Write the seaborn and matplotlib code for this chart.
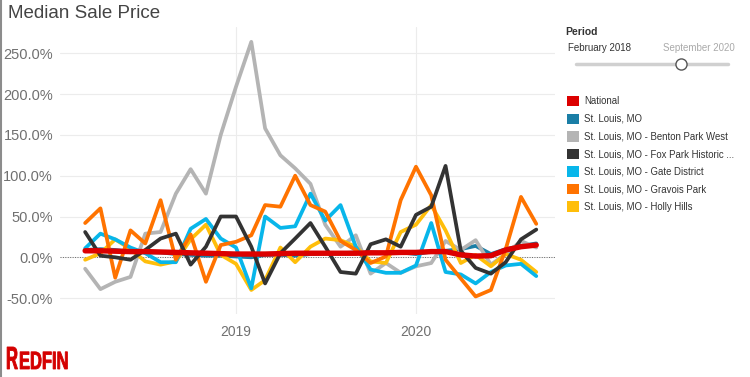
import pandas as pd
import seaborn as sns
import matplotlib.pyplot as plt
from matplotlib.patches import Patch, PathPatch
from matplotlib.lines import Line2D
from matplotlib.textpath import TextPath
from matplotlib.font_manager import FontProperties
from matplotlib.transforms import Affine2D, IdentityTransform

# %% Data (year-over-year change in median sale price, %)

months = pd.date_range('2018-03-01', '2020-09-01', freq='MS')

national = [8, 8, 7.5, 7, 7, 6.5, 6, 5.5, 5, 4.5, 4, 4, 4, 4.5, 5, 5,
            5, 5, 5, 5.5, 5.5, 6, 6, 7, 7, 3, 1.5, 2, 9, 13, 15]
st_louis = [9, 10, 9, 7, 6, 6, 4, 3, 2, 2, 1, 0, 3, 3, 2, 4,
            5, 5, 6, 6, 5, 6, 4, 7, 8, 10, 14, 4, 10, 14, 17]
benton_park_west = [-14, -39, -30, -24, 29, 31, 78, 108, 78, 150, 209, 264, 158, 125, 109, 90,
                    40, 13, 27, -20, -7, -19, -11, -7, 20, 9, 21, -9, 4, 20, 12]
fox_park = [31, 2, 0, -3, 9, 23, 29, -9, 13, 50, 50, 13, -32, 5, 23, 42,
            13, -18, -20, 16, 22, 13, 52, 62, 112, 8, -13, -20, -6, 22, 34]
gate_district = [11, 29, 22, 12, 5, -6, -6, 35, 47, 23, 12, -38, 50, 36, 38, 78,
                 45, 64, 13, -15, -19, -19, -10, 42, -18, -21, -32, -18, -10, -8, -23]
gravois_park = [42, 60, -25, 33, 17, 70, -3, 28, -30, 15, 19, 27, 64, 62, 100, 64,
                56, 20, 9, -7, 1, 70, 111, 76, -3, -26, -48, -40, 10, 74, 41]
holly_hills = [-3, 5, 22, 10, -5, -9, -5, 22, 40, 3, -8, -40, -28, 12, -6, 13,
               23, 21, 13, -5, -7, 31, 40, 64, 33, -7, 3, -11, 4, -3, -18]

regions = ['National', 'St. Louis, MO', 'St. Louis, MO - Benton Park West',
           'St. Louis, MO - Fox Park Historic ...', 'St. Louis, MO - Gate District',
           'St. Louis, MO - Gravois Park', 'St. Louis, MO - Holly Hills']
series = [national, st_louis, benton_park_west, fox_park, gate_district,
          gravois_park, holly_hills]
colors = ['#dc0000', '#1a7ea6', '#b4b4b4', '#333333', '#08b6ea', '#ff7300', '#ffbe0a']

data = pd.concat(
    [pd.DataFrame({'Month': months, 'Change': vals, 'Region': name})
     for name, vals in zip(regions, series)],
    ignore_index=True,
)

# %% Plot

sns.set_style('white')
plt.rcParams['font.family'] = ['Liberation Sans', 'DejaVu Sans']

fig = plt.figure(figsize=(7.5, 3.77), dpi=100)
ax = fig.add_axes([0.08, 0.167, 0.66, 0.761])

draw_order = [regions[i] for i in (1, 2, 6, 4, 5, 3, 0)]
palette = dict(zip(regions, colors))
widths = {r: 2.7 for r in regions}
widths['National'] = 3.9

sns.lineplot(
    data=data, x='Month', y='Change',
    hue='Region', hue_order=draw_order, palette=palette,
    size='Region', size_order=draw_order, sizes=widths,
    legend=False, ax=ax, zorder=3,
)

ax.axhline(0, color='#666666', lw=0.7, ls=(0, (1, 1.5)), zorder=2)

ax.set_ylim(-69.5, 282)
ax.set_xlim(pd.Timestamp('2018-01-09'), pd.Timestamp('2020-10-09'))
yticks = [-50, 0, 50, 100, 150, 200, 250]
ax.set_yticks(yticks)
ax.set_yticklabels([f'{v:.1f}%' for v in yticks])
ax.set_xticks([pd.Timestamp('2019-01-01'), pd.Timestamp('2020-01-01')])
ax.set_xticklabels(['2019', '2020'])
ax.set_xticks(pd.date_range('2018-02-01', '2020-10-01', freq='MS'), minor=True)

ax.tick_params(axis='y', length=4, width=0.8, color='#dddddd', pad=1,
               labelsize=10.5, labelcolor='#707070')
ax.tick_params(axis='x', which='major', length=4, width=0.8, color='#dddddd',
               pad=4, labelsize=10, labelcolor='#707070')
ax.tick_params(axis='x', which='minor', length=2, width=0.8, color='#d5d5d5')
ax.grid(True, which='major', color='#ececec', lw=0.8)
ax.set_xlabel('')
ax.set_ylabel('')
sns.despine(ax=ax, left=True, bottom=True)

fig.text(8 / 750, 1 - 13 / 377, 'Median Sale Price', fontsize=13.5,
         color='#444444', va='center')

# period filter
fig.text(565 / 750, 1 - 32 / 377, 'Period', fontsize=7.5, fontweight='bold',
         color='#333333', va='center')
fig.text(568 / 750, 1 - 48 / 377, 'February 2018', fontsize=7,
         color='#333333', va='center')
fig.text(735 / 750, 1 - 48 / 377, 'September 2020', fontsize=7,
         color='#aaaaaa', va='center', ha='right')
fig.add_artist(Line2D([576 / 750, 728 / 750], [1 - 64 / 377] * 2,
                      color='#d0d0d0', lw=2.5, solid_capstyle='round'))
fig.add_artist(Line2D([681 / 750], [1 - 64 / 377], marker='o', markersize=8,
                      markerfacecolor='white', markeredgecolor='#555555',
                      markeredgewidth=1))

handles = [Patch(facecolor=c, edgecolor='none') for c in colors]
ax.legend(handles, regions, loc='upper left',
          bbox_to_anchor=(567 / 750, 1 - 96 / 377), bbox_transform=fig.transFigure,
          frameon=False, fontsize=6.9, handlelength=1.3, handleheight=1.3,
          handletextpad=0.45, labelspacing=0.74, borderaxespad=0, borderpad=0,
          labelcolor='#333333')

# logo
bold = FontProperties(family='Liberation Sans', weight='bold')
for txt, size, x0, sx in [('R', 32, 6, 0.52), ('EDFIN', 25, 19, 0.66)]:
    path = TextPath((0, 0), txt, size=size, prop=bold)
    tr = Affine2D().scale(sx, 1).translate(x0, 377 - 369)
    fig.add_artist(PathPatch(tr.transform_path(path), facecolor='#d40000',
                             edgecolor='#d40000', lw=0.6,
                             transform=IdentityTransform()))

fig.add_artist(Line2D([0.0015, 0.0015], [0, 1], color='#8c8c8c', lw=1.5))

plt.savefig('out.png', dpi=100)
